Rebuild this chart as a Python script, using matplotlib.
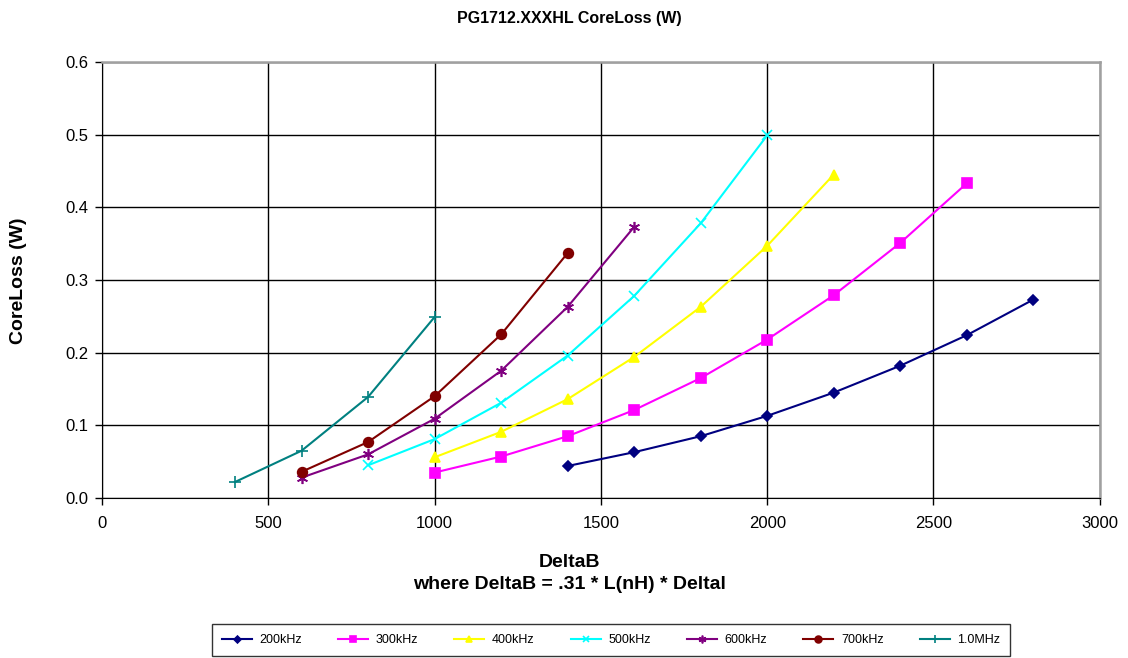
import numpy as np
import matplotlib.pyplot as plt
from matplotlib.ticker import FormatStrFormatter

plt.rcParams['font.family'] = ['Liberation Sans', 'DejaVu Sans']

x_200 = [1400, 1600, 1800, 2000, 2200, 2400, 2600, 2800]
y_200 = [0.044, 0.063, 0.085, 0.113, 0.145, 0.182, 0.224, 0.273]
x_300 = [1000, 1200, 1400, 1600, 1800, 2000, 2200, 2400, 2600]
y_300 = [0.035, 0.057, 0.085, 0.121, 0.165, 0.218, 0.279, 0.351, 0.433]
x_400 = [1000, 1200, 1400, 1600, 1800, 2000, 2200]
y_400 = [0.056, 0.091, 0.136, 0.194, 0.263, 0.347, 0.445]
x_500 = [800, 1000, 1200, 1400, 1600, 1800, 2000]
y_500 = [0.045, 0.081, 0.131, 0.196, 0.278, 0.378, 0.499]
x_600 = [600, 800, 1000, 1200, 1400, 1600]
y_600 = [0.028, 0.060, 0.109, 0.175, 0.263, 0.373]
x_700 = [600, 800, 1000, 1200, 1400]
y_700 = [0.036, 0.077, 0.140, 0.225, 0.337]
x_1m = [400, 600, 800, 1000]
y_1m = [0.022, 0.065, 0.139, 0.249]

series = [
    ("200kHz", x_200, y_200, "#000080", "D", 5),
    ("300kHz", x_300, y_300, "#FF00FF", "s", 7),
    ("400kHz", x_400, y_400, "#FFFF00", "^", 7),
    ("500kHz", x_500, y_500, "#00FFFF", "x", 7),
    ("600kHz", x_600, y_600, "#800080", (6, 2, 0), 8),
    ("700kHz", x_700, y_700, "#800000", "o", 7),
    ("1.0MHz", x_1m, y_1m, "#008080", "+", 8),
]

fig = plt.figure(figsize=(11.28, 6.58), dpi=100)
ax = fig.add_axes([0.0904, 0.2432, 0.8846, 0.6626])

for name, xs, ys, col, mk, ms in series:
    ax.plot(xs, ys, color=col, marker=mk, markersize=ms, linewidth=1.5,
            markeredgewidth=1.2, label=name)

ax.set_xlim(0, 3000)
ax.set_ylim(0, 0.6)
ax.set_xticks(np.arange(0, 3001, 500))
ax.set_yticks(np.arange(0, 0.61, 0.1))
ax.yaxis.set_major_formatter(FormatStrFormatter('%.1f'))
ax.grid(True, color='black', linewidth=1)
ax.set_axisbelow(True)
for side in ['top', 'right']:
    ax.spines[side].set_color('#a0a0a0')
    ax.spines[side].set_linewidth(1.8)
ax.spines['left'].set_color('black')
ax.spines['bottom'].set_color('black')
ax.tick_params(labelsize=12, direction='out', length=5, width=1)
ax.tick_params(axis='x', pad=8)
ax.tick_params(axis='y', pad=5)

fig.text(0.505, 0.972, "PG1712.XXXHL CoreLoss (W)", ha='center', va='center',
         fontsize=11.5, fontweight='bold')
fig.text(0.505, 0.145, "DeltaB", ha='center', va='center', fontsize=14, fontweight='bold')
fig.text(0.505, 0.112, "where DeltaB = .31 * L(nH) * Deltal", ha='center', va='center',
         fontsize=14, fontweight='bold')
fig.text(0.016, 0.574, "CoreLoss (W)", rotation=90, ha='center', va='center',
         fontsize=14, fontweight='bold')

leg = fig.legend(loc='center', bbox_to_anchor=(0.5417, 0.0275), ncol=7, fontsize=9,
                 frameon=True, fancybox=False, edgecolor='black', markerscale=0.7,
                 handlelength=2.4, handletextpad=0.6, columnspacing=2.9, borderpad=0.8)
leg.get_frame().set_linewidth(1)

fig.savefig("out.png", dpi=100)
